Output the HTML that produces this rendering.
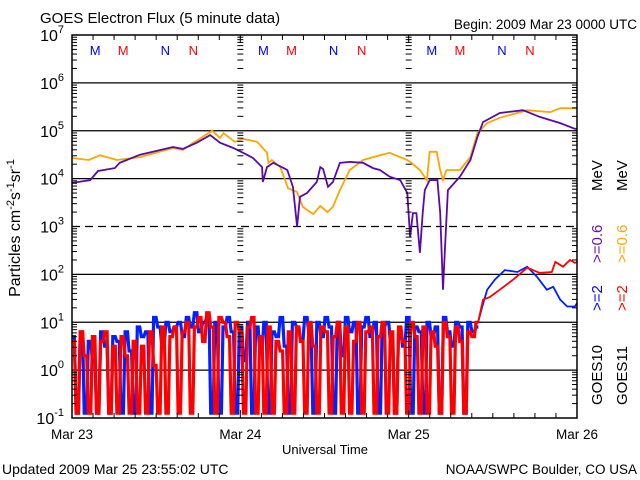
<!DOCTYPE html>
<html><head><meta charset="utf-8"><style>
body{margin:0;background:#fff}
svg{display:block;font-family:"Liberation Sans",sans-serif}
</style></head><body>
<svg id="chart" width="640" height="480" viewBox="0 0 640 480" xmlns="http://www.w3.org/2000/svg">
<rect width="640" height="480" fill="#fff"/>
<text x="40" y="23" font-size="15">GOES Electron Flux (5 minute data)</text>
<text x="637" y="29" font-size="13.5" text-anchor="end">Begin: 2009 Mar 23 0000 UTC</text>
<text x="325" y="454" font-size="13" text-anchor="middle">Universal Time</text>
<text x="2" y="474" font-size="14">Updated 2009 Mar 25 23:55:02 UTC</text>
<text x="637" y="474" font-size="13.5" text-anchor="end">NOAA/SWPC Boulder, CO USA</text>
<text transform="translate(20,228) rotate(-90)" font-size="16" text-anchor="middle">Particles cm<tspan dy="-6" font-size="11">-2</tspan><tspan dy="6">s</tspan><tspan dy="-6" font-size="11">-1</tspan><tspan dy="6">sr</tspan><tspan dy="-6" font-size="11">-1</tspan></text>
<g id="grid"></g><g id="series"></g><g id="axes"></g>
<g font-size="15">
<text transform="translate(602,405) rotate(-90)">GOES10</text>
<text transform="translate(627,405) rotate(-90)">GOES11</text>
<text transform="translate(602,311) rotate(-90)" fill="#0000ff">&gt;=2</text>
<text transform="translate(627,311) rotate(-90)" fill="#ff0000">&gt;=2</text>
<text transform="translate(602,263) rotate(-90)" fill="#6a0dad">&gt;=0.6</text>
<text transform="translate(627,263) rotate(-90)" fill="#ffa500">&gt;=0.6</text>
<text transform="translate(602,191) rotate(-90)">MeV</text>
<text transform="translate(627,191) rotate(-90)">MeV</text>
</g>
</svg>
<script>
const NS="http://www.w3.org/2000/svg";
// data: hours since Mar 23 00:00, log10 flux
const purpleH=[0,2.6,3.7,6.1,6.8,9.7,14.4,15.8,17.8,19.7,21.1,23,24.4,25.8,27.1,27.2,27.8,28.7,30.7,31.5,32.1,32.5,33.5,34.9,35.4,35.8,36.5,37.2,38.2,39.6,41.5,42.9,43.9,45.3,46.8,47.8,48.2,48.6,49.1,49.6,50,50.3,51,52.1,52.5,52.9,53.2,53.6,55.3,56.8,57.8,58.6,61,64.3,66.7,69.6,71.7,72];
const purpleV=[3.91,3.97,4.16,4.22,4.33,4.5,4.66,4.62,4.75,4.91,4.75,4.64,4.54,4.43,4.24,3.93,4.24,4.33,4.18,3.83,3.0,3.62,3.7,3.93,4.24,4.2,3.83,3.93,4.33,4.35,4.33,4.22,4.18,4.04,3.97,3.7,2.78,3.28,3.28,2.45,3.28,3.76,3.97,3.97,3.28,1.68,2.6,3.76,4.04,4.39,4.87,5.18,5.37,5.43,5.29,5.16,5.04,5.04];
const orangeH=[0,2.4,4,6.4,9.7,14.4,15.8,17.3,20,21.1,21.6,23.2,24.4,26.4,27.8,28,28.5,29.7,30.8,32.1,32.9,34.4,35.4,36.4,37.2,38.2,39.6,41.5,43.9,45.3,47.8,48.2,49.6,50.6,51,52,52.5,52.9,53.4,55.3,56.8,57.8,59.2,61,64.9,68.2,69.6,71.7,72];
const orangeV=[4.43,4.39,4.49,4.39,4.45,4.64,4.6,4.75,5.0,4.85,4.95,4.77,4.83,4.77,4.54,4.33,4.39,4.24,3.8,3.72,3.41,3.26,3.43,3.3,3.41,3.76,4.18,4.39,4.49,4.54,4.39,4.35,4.18,3.97,4.56,4.56,4.18,3.97,4.18,4.18,4.45,4.95,5.16,5.27,5.43,5.39,5.47,5.47,5.47];
const blueH=[57.9,58.5,59.2,60.3,61.7,63.5,64.9,66.3,67.7,68.6,69.6,70.6,71.7,72];
const blueV=[1.0,1.33,1.68,1.89,2.09,2.05,2.16,1.95,1.68,1.74,1.47,1.33,1.33,1.4];
const redH=[57.9,58.6,59.6,61,62.9,64.9,66.7,68.4,68.9,70,71,71.7,72];
const redV=[1.0,1.47,1.53,1.68,1.89,2.14,2.03,2.05,2.26,2.16,2.3,2.24,2.26];
// noisy low-flux section, evenly spaced from 0 to 57.6 h
const blueNoise=[0.7,-0.9,0.8,-0.9,0.6,0.2,-0.9,0.8,0.5,-0.9,0.7,0.6,-0.9,0.8,0.4,-0.9,0.9,0.7,0.8,-0.9,1.1,0.9,0.5,1.0,0.8,0.9,1.0,0.7,1.1,0.9,1.2,0.8,1.0,1.1,-0.9,1.0,-0.9,0.9,1.1,0.8,-0.9,0.9,0.2,1.0,-0.9,0.9,0.4,1.0,-0.9,0.8,0.7,1.1,0.5,-0.9,1.0,0.9,0.6,1.1,0.8,-0.9,1.0,0.7,1.1,0.9,-0.9,1.0,0.3,1.1,0.8,1.0,-0.9,0.9,1.1,0.7,1.0,-0.9,0.9,1.0,0.6,-0.9,0.8,0.5,1.1,-0.9,0.9,0.8,-0.9,1.0,0.7,0.9,-0.9,1.1,0.8,0.5,1.0,0.9,-0.9,1.0,0.8,0.9];
const redNoise=[0.6,-0.9,0.8,0.3,-0.9,0.7,-0.9,0.6,0.8,-0.9,0.5,-0.9,0.7,0.3,-0.9,0.6,-0.9,0.5,-0.9,0.8,0.1,-0.9,0.9,-0.9,0.7,0.9,-0.9,0.8,1.0,-0.9,0.9,1.1,0.6,1.2,0.9,-0.9,1.1,1.0,0.7,-0.9,1.0,0.8,-0.9,0.9,1.1,-0.9,0.7,-0.9,0.9,-0.9,0.6,0.4,-0.9,0.8,-0.9,0.9,0.6,-0.9,1.0,0.5,-0.9,0.9,0.8,-0.9,0.7,1.0,-0.9,0.9,-0.9,0.6,1.0,-0.9,0.8,0.9,-0.9,0.7,1.0,-0.9,0.8,-0.9,0.9,0.6,-0.9,1.0,0.7,-0.9,0.9,-0.9,0.8,0.5,-0.9,1.0,0.7,-0.9,0.9,0.6,-0.9,0.8,0.7,1.0];
const dayLabels=["Mar 23","Mar 24","Mar 25","Mar 26"];
const decadeExps=[-1,0,1,2,3,4,5,6,7];
const markerLetters=["M","M","N","N","M","M","N","N","M","M","N","N"];
const markerHours=[3.3,7.3,13.3,17.3,27.3,31.3,37.3,41.3,51.3,55.3,61.3,65.3];
const markerColors=["#0000ff","#ff0000","#0000ff","#ff0000","#0000ff","#ff0000","#0000ff","#ff0000","#0000ff","#ff0000","#0000ff","#ff0000"];

const L=72,R=577,T=35,B=418;
const xs=h=>L+(h/72)*(R-L);
const ys=v=>B-(v+1)/8*(B-T);
const grid=document.getElementById('grid'),ser=document.getElementById('series'),axes=document.getElementById('axes');
function mk(tag,attrs,parent){const e=document.createElementNS(NS,tag);for(const k in attrs)e.setAttribute(k,attrs[k]);parent.appendChild(e);return e;}

decadeExps.forEach(e=>{
  if(e===-1||e===7)return;
  const l=mk('line',{x1:L,x2:R,y1:ys(e),y2:ys(e),stroke:'#000','stroke-width':1.3},grid);
  if(e===3)l.setAttribute('stroke-dasharray','8,5');
  
  
});
const tk=mk('g',{stroke:'#000','stroke-width':1},axes);


for(let e=-1;e<7;e++){for(let m=2;m<=9;m++){const y=ys(e+Math.log10(m));
  mk('line',{x1:L,x2:L+5,y1:y,y2:y},tk);mk('line',{x1:R-5,x2:R,y1:y,y2:y},tk);
  [1,2].forEach(d=>{const x=xs(d*24);mk('line',{x1:x-3,x2:x+3,y1:y,y2:y},tk);});
}}
for(let h=0;h<=72;h+=3){const x=xs(h);mk('line',{x1:x,x2:x,y1:B,y2:B-(h%24===0?8:5)},tk);mk('line',{x1:x,x2:x,y1:T,y2:T+(h%24===0?8:5)},tk);}

function path(H,V,color,name,w){
  let d='';H.forEach((h,i)=>{d+=(i?'L':'M')+xs(h).toFixed(1)+','+ys(V[i]).toFixed(1);});
  const p=mk('path',{d:d,fill:'none',stroke:color,'stroke-width':w,'stroke-linejoin':'miter'},ser);
  
  
}
function noise(V,color,name){
  const step=57.6/(V.length-1);let d='';
  V.forEach((v,i)=>{const x=xs(i*step).toFixed(1);d+=(i?'L':'M')+x+','+ys(v).toFixed(1)+'L'+(xs((i+0.6)*step)).toFixed(1)+','+ys(v).toFixed(1);});
  const p=mk('path',{d:d,fill:'none',stroke:color,'stroke-width':3.2},ser);
  
  
}
noise(blueNoise,'#0022ff','goes10-2mev-noise');
noise(redNoise,'#ff0000','goes11-2mev-noise');
path(blueH,blueV,'#0022ff','goes10-2mev-line',1.8);
path(redH,redV,'#ff0000','goes11-2mev-line',1.8);
path(orangeH,orangeV,'#ffa500','goes11-06mev-line',1.8);
path(purpleH,purpleV,'#5a0aa8','goes10-06mev-line',1.8);

const fr=mk('rect',{x:L,y:T,width:R-L,height:B-T,fill:'none',stroke:'#000','stroke-width':1.5},axes);



decadeExps.forEach(e=>{
  const t=mk('text',{x:L-8,y:ys(e)+6,'font-size':16,'text-anchor':'end'},axes);
  
  
  t.textContent='10';
  const s=mk('tspan',{dy:-8,'font-size':11},t);s.textContent=String(e);
});
dayLabels.forEach((lab,i)=>{
  const t=mk('text',{x:xs(i*24),y:439,'font-size':13.5,'text-anchor':'middle'},axes);
  
  
  t.textContent=lab;
});
markerLetters.forEach((m,i)=>{
  const t=mk('text',{x:xs(markerHours[i]),y:55,'font-size':13,'text-anchor':'middle',fill:markerColors[i]},axes);
  
  
  t.textContent=m;
});
</script>
</body></html>
